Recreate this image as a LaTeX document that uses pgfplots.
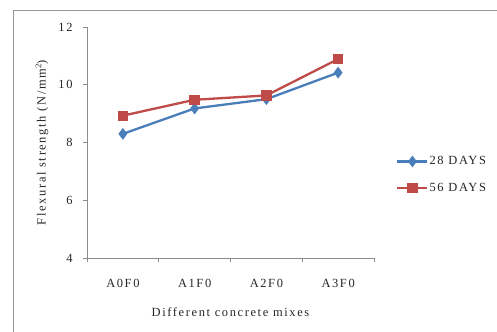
\documentclass[border=0pt]{standalone}
\usepackage{fontspec}
\setmainfont{Liberation Serif}[LetterSpace=13]
\usepackage{pgfplots}
\pgfplotsset{compat=1.18}
\definecolor{sblue}{HTML}{4A7EBB}
\definecolor{sred}{HTML}{BE4B48}
\definecolor{axgray}{HTML}{8C8C8C}
\definecolor{framegray}{HTML}{999999}
\begin{document}
\begin{tikzpicture}[x=1bp,y=1bp]
\begin{axis}[
  scale only axis, width=287bp, height=231bp,
  xmin=-0.5, xmax=3.5, ymin=4, ymax=12,
  axis lines=left, axis line style={axgray, line width=0.8bp, -},
  xtick={0,1,2,3}, xticklabels={A0F0,A1F0,A2F0,A3F0},
  minor xtick={-0.5,0.5,1.5,2.5,3.5},
  ytick={4,6,8,10,12},
  tick align=outside,
  major x tick style={draw=none},
  minor tick length=4bp, major tick length=4bp,
  tick style={axgray, line width=0.8bp},
  /pgf/number format/assume math mode=true,
  tick label style={font=\fontsize{12.5}{14}\selectfont, text=black!85},
  xticklabel style={anchor=center, yshift=-21bp},
  yticklabel style={anchor=east, xshift=-7bp},
  xlabel={Different concrete mixes},
  ylabel={Flexural strength (N/mm\textsuperscript{2})},
  label style={font=\fontsize{12.5}{14}\selectfont, text=black!85},
  xlabel style={at={(rel axis cs:0.5,-0.234)}, anchor=center},
  ylabel style={at={(rel axis cs:-0.157,0.5)}, anchor=center, rotate=0},
  legend style={at={(rel axis cs:1.077,0.36)}, anchor=west, draw=none, fill=none,
    font=\fontsize{12.5}{14}\selectfont, text=black!85, row sep=15bp, inner sep=0pt,
    nodes={inner sep=1bp}},
  legend cell align=left,
  legend image code/.code={\draw[mark repeat=2,mark phase=2] plot coordinates {(0bp,0bp) (15bp,0bp) (30bp,0bp)};},
  clip=false,
]
\coordinate (O) at (rel axis cs:0,0);
\addplot[sblue, line width=2.3bp, mark=diamond*, mark size=4bp, mark options={solid}]
  coordinates {(0,8.3) (1,9.18) (2,9.5) (3,10.42)};
\addlegendentry{28 DAYS}
\addplot[sred, line width=2.3bp, mark=square*, mark size=4bp, mark options={solid}]
  coordinates {(0,8.93) (1,9.48) (2,9.63) (3,10.89)};
\addlegendentry{56 DAYS}
\end{axis}
\pgfresetboundingbox
\path[use as bounding box] ([shift={(-87,-73)}]O) rectangle ([shift={(410,258)}]O);
\draw[framegray, line width=0.9bp] ([shift={(-73.5,-80)}]O) -- ([shift={(-73.5,247.5)}]O) -- ([shift={(420,247.5)}]O);
\end{tikzpicture}
\end{document}
